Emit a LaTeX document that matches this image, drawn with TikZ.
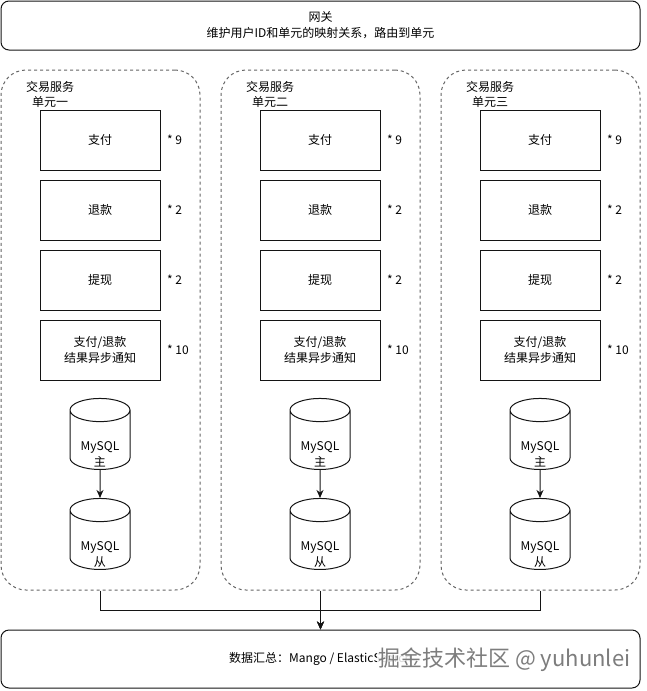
\documentclass[tikz,border=0pt]{standalone}
\usepackage{fontspec}
\setmainfont{Noto Sans CJK SC}
\usetikzlibrary{shapes.geometric,arrows.meta}
\definecolor{black}{RGB}{20,20,20}
\definecolor{dashgrey}{RGB}{100,100,100}
\definecolor{markgrey}{RGB}{125,125,125}
\newcommand{\dbtext}[1]{\raisebox{-18pt}[0pt][0pt]{\begin{tabular}{@{}c@{}}#1\end{tabular}}}
\tikzset{
    wide/.style={
        draw=black,
        line width=1pt,
        rounded corners=8pt,
        minimum width=639pt,
        minimum height=#1,
        inner sep=0pt,
        align=center,
        font=\fontsize{12}{16}\selectfont
    },
    unit/.style={
        draw=dashgrey,
        line width=1pt,
        dash pattern=on 3pt off 3pt,
        rounded corners=25pt,
        minimum width=199pt,
        minimum height=520pt
    },
    unitlabel/.style={
        align=center,
        inner sep=0pt,
        font=\fontsize{12}{15}\selectfont
    },
    service/.style={
        draw=black,
        line width=1pt,
        minimum width=120pt,
        minimum height=60pt,
        inner sep=0pt,
        align=center,
        font=\fontsize{12}{16}\selectfont
    },
    count/.style={
        anchor=west,
        inner sep=0pt,
        font=\fontsize{12}{14}\selectfont
    },
    db/.style={
        cylinder,
        shape border rotate=90,
        draw=black,
        line width=1pt,
        aspect=0.6,
        minimum width=60pt,
        minimum height=71pt,
        inner sep=0pt,
        font=\fontsize{12}{16}\selectfont
    },
    link/.style={
        draw=black,
        line width=1pt,
        -{Stealth[length=8pt,width=7pt,inset=2.5pt]}
    }
}

\begin{document}
\begin{tikzpicture}[x=1pt,y=-1pt]
    \useasboundingbox (0,0) rectangle (646,691);

    % 网关
    \node[wide=49pt] (gate) at (320.5,25.5) {网关\\维护用户ID和单元的映射关系，路由到单元};

    % 数据汇总
    \node[wide=58pt] (sum) at (320.5,659) {数据汇总：Mango / ElasticSearch};
    \node[anchor=west, inner sep=1pt, fill=white, fill opacity=0.85, text opacity=1,
          text=markgrey, font=\fontsize{22}{22}\selectfont] (mark) at (377,660)
          {掘金技术社区 @ yuhunlei};

    % 三个单元
    \foreach \i/\x/\name in {1/100/一, 2/320/二, 3/540/三} {
        \node[unit] (unit\i) at (\x+0.5,330) {};
        \node[unitlabel] (label\i) at (\x-50,94) {交易服务\\单元\name};

        % 服务
        \node[service] (pay\i) at (\x,140) {支付};
        \node[service] (refund\i) at (\x,210) {退款};
        \node[service] (cash\i) at (\x,280) {提现};
        \node[service] (notify\i) at (\x,350) {支付/退款\\结果异步通知};

        % 实例数
        \node[count] (npay\i) at (\x+67,140) {* 9};
        \node[count] (nrefund\i) at (\x+67,210) {* 2};
        \node[count] (ncash\i) at (\x+67,280) {* 2};
        \node[count] (nnotify\i) at (\x+67,350) {* 10};

        % 主从库
        \node[db] (master\i) at (\x,440) {\dbtext{MySQL\\主}};
        \node[db] (slave\i) at (\x,540) {\dbtext{MySQL\\从}};
        \draw[link] (master\i.south) -- (slave\i.north);
    }

    % 汇总连线
    \draw[link] (unit1.south) -- ++(0,20) -| (sum.north);
    \draw[link] (unit3.south) -- ++(0,20) -| (sum.north);
    \draw[link] (unit2.south) -- (sum.north);
\end{tikzpicture}
\end{document}
